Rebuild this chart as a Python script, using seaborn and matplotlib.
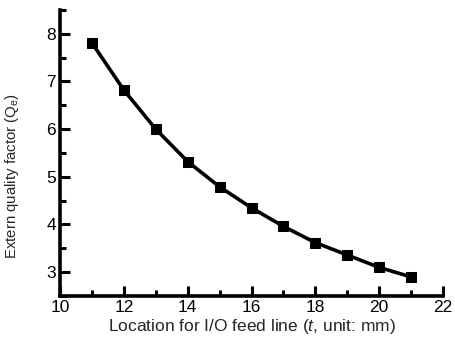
import matplotlib
matplotlib.use("Agg")
import matplotlib.pyplot as plt
import seaborn as sns
import pandas as pd
from matplotlib.ticker import MultipleLocator

t_mm = [11, 12, 13, 14, 15, 16, 17, 18, 19, 20, 21]
qe = [7.81, 6.82, 6.00, 5.32, 4.79, 4.35, 3.96, 3.62, 3.36, 3.10, 2.90]

sns.set_style("ticks")
plt.rcParams['font.family'] = ['Liberation Sans', 'DejaVu Sans']
plt.rcParams['mathtext.fontset'] = 'custom'
plt.rcParams['mathtext.rm'] = 'Liberation Sans'
plt.rcParams['mathtext.it'] = 'Liberation Sans:italic'

df = pd.DataFrame({"t": t_mm, "qe": qe})

fig = plt.figure(figsize=(4.56, 3.43), dpi=100)
ax = fig.add_axes([0.1316, 0.137, 0.8399, 0.834])
sns.lineplot(data=df, x="t", y="qe", ax=ax, color="black", linewidth=2.6,
             marker="s", markersize=7.5, markeredgecolor="black",
             markerfacecolor="black")

ax.set_xlim(10, 22)
ax.set_ylim(2.5, 8.5)
ax.xaxis.set_major_locator(MultipleLocator(2))
ax.xaxis.set_minor_locator(MultipleLocator(1))
ax.set_yticks([3, 4, 5, 6, 7, 8])
ax.yaxis.set_minor_locator(MultipleLocator(0.5))

for s in ["top", "right"]:
    ax.spines[s].set_visible(False)
for s in ["left", "bottom"]:
    ax.spines[s].set_linewidth(2.6)
    ax.spines[s].set_color("black")

ax.tick_params(which="major", direction="in", length=7, width=2.2, labelsize=12.5,
               colors="black", pad=3)
ax.tick_params(which="minor", direction="in", length=4, width=2.2, colors="black")

ax.set_xlabel("Location for I/O feed line ($\\mathit{t}$, unit: mm)", fontsize=12.5, labelpad=1)
ax.set_ylabel("Extern quality factor (Q$_\\mathrm{e}$)", fontsize=10.8)
ax.yaxis.set_label_coords(-0.102, 0.42)

fig.savefig("out.png", dpi=100)
